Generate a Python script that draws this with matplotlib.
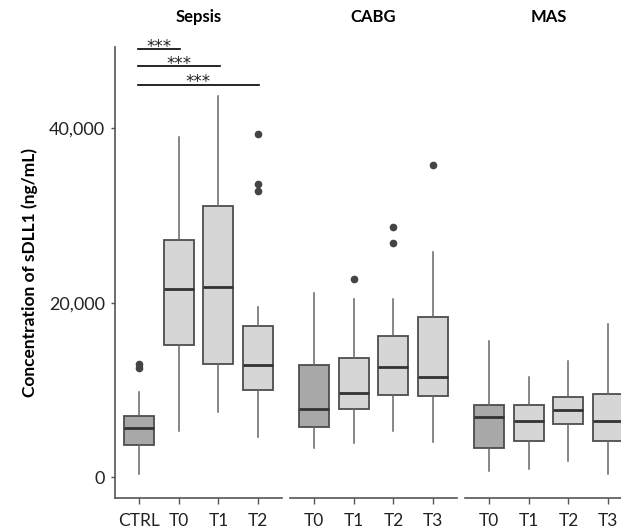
import matplotlib.pyplot as plt
from matplotlib.ticker import FuncFormatter

plt.rcParams['font.family'] = ['Lato', 'DejaVu Sans']

# groups (facets) and time points
groups = ['Sepsis', 'CABG', 'MAS']
labels = [['CTRL', 'T0', 'T1', 'T2'],
          ['T0', 'T1', 'T2', 'T3'],
          ['T0', 'T1', 'T2', 'T3']]

# box statistics (ng/mL)
whislo = [[420, 5340, 7450, 4580],
          [3390, 3900, 5340, 4080],
          [720, 920, 1870, 340]]
q1 = [[3670, 15130, 12980, 10040],
      [5730, 7830, 9430, 9320],
      [3360, 4190, 6110, 4130]]
med = [[5700, 21580, 21770, 12900],
       [7830, 9660, 12640, 11460],
       [6950, 6450, 7750, 6490]]
q3 = [[7070, 27200, 31120, 17340],
      [12840, 13670, 16230, 18340],
      [8290, 8290, 9170, 9580]]
whishi = [[9780, 39030, 43730, 19550],
          [21150, 20400, 20470, 25850],
          [15650, 11530, 13330, 17530]]
fliers = [[[13030, 12570], [], [], [39310, 33580, 32850]],
          [[], [22720], [28720, 26890], [35760]],
          [[], [], [], []]]
dark = [[True, False, False, False],
        [True, False, False, False],
        [True, False, False, False]]

# significance brackets in the Sepsis panel: (from, to, height)
sig_pairs = [(0, 1, 49050), (0, 2, 47100), (0, 3, 45000)]

fig = plt.figure(figsize=(6.21, 5.32), dpi=100)
lefts = [115, 290, 465]
width = 167
bottom, top = 0.0639, 0.9122

edge = '#4d4d4d'
for g in range(3):
    ax = fig.add_axes([lefts[g] / 621, bottom, width / 621, top - bottom])
    stats = []
    for i in range(4):
        stats.append(dict(whislo=whislo[g][i], q1=q1[g][i], med=med[g][i],
                          q3=q3[g][i], whishi=whishi[g][i], fliers=fliers[g][i]))
    bp = ax.bxp(stats, positions=range(4), widths=0.75, patch_artist=True,
                showcaps=False,
                boxprops=dict(edgecolor=edge, linewidth=1.3),
                medianprops=dict(color='#333333', linewidth=2),
                whiskerprops=dict(color='#666666', linewidth=1.1),
                flierprops=dict(marker='o', markersize=4.5, markerfacecolor='#444444',
                                markeredgecolor='#444444'))
    for i, box in enumerate(bp['boxes']):
        box.set_facecolor('#a8a8a8' if dark[g][i] else '#d6d6d6')

    ax.set_xlim(-0.6, 3.6)
    ax.set_ylim(-2370, 49350)
    ax.set_xticks(range(4))
    ax.set_xticklabels(labels[g], fontsize=12.5, color='#222222')
    ax.tick_params(axis='x', length=4, width=1, color='#555555', pad=7)
    for s in ['top', 'right']:
        ax.spines[s].set_visible(False)
    ax.spines['bottom'].set_color('#555555')
    ax.spines['bottom'].set_linewidth(1.2)
    ax.set_title(groups[g], fontsize=12, fontweight='bold', pad=18, y=1.0)
    if g == 0:
        ax.spines['left'].set_color('#555555')
        ax.spines['left'].set_linewidth(1.2)
        ax.set_yticks([0, 20000, 40000])
        ax.yaxis.set_major_formatter(FuncFormatter(lambda v, p: f'{int(v):,}'))
        ax.tick_params(axis='y', length=3, width=1, color='#555555', labelsize=13,
                       labelcolor='#222222', pad=4)
        ax.set_ylabel('Concentration of sDLL1 (ng/mL)', fontsize=12.5, fontweight='bold',
                      labelpad=8)
        for a, b, h in sig_pairs:
            ax.plot([a - 0.03, b + 0.03], [h, h], color='black', lw=1.2, clip_on=False)
            ax.text((a + b) / 2, h - 320, '***', ha='center', va='baseline',
                    fontsize=12, family='DejaVu Sans', color='#222222', clip_on=False)
    else:
        ax.spines['left'].set_visible(False)
        ax.set_yticks([])

fig.savefig('out.png', dpi=100)
